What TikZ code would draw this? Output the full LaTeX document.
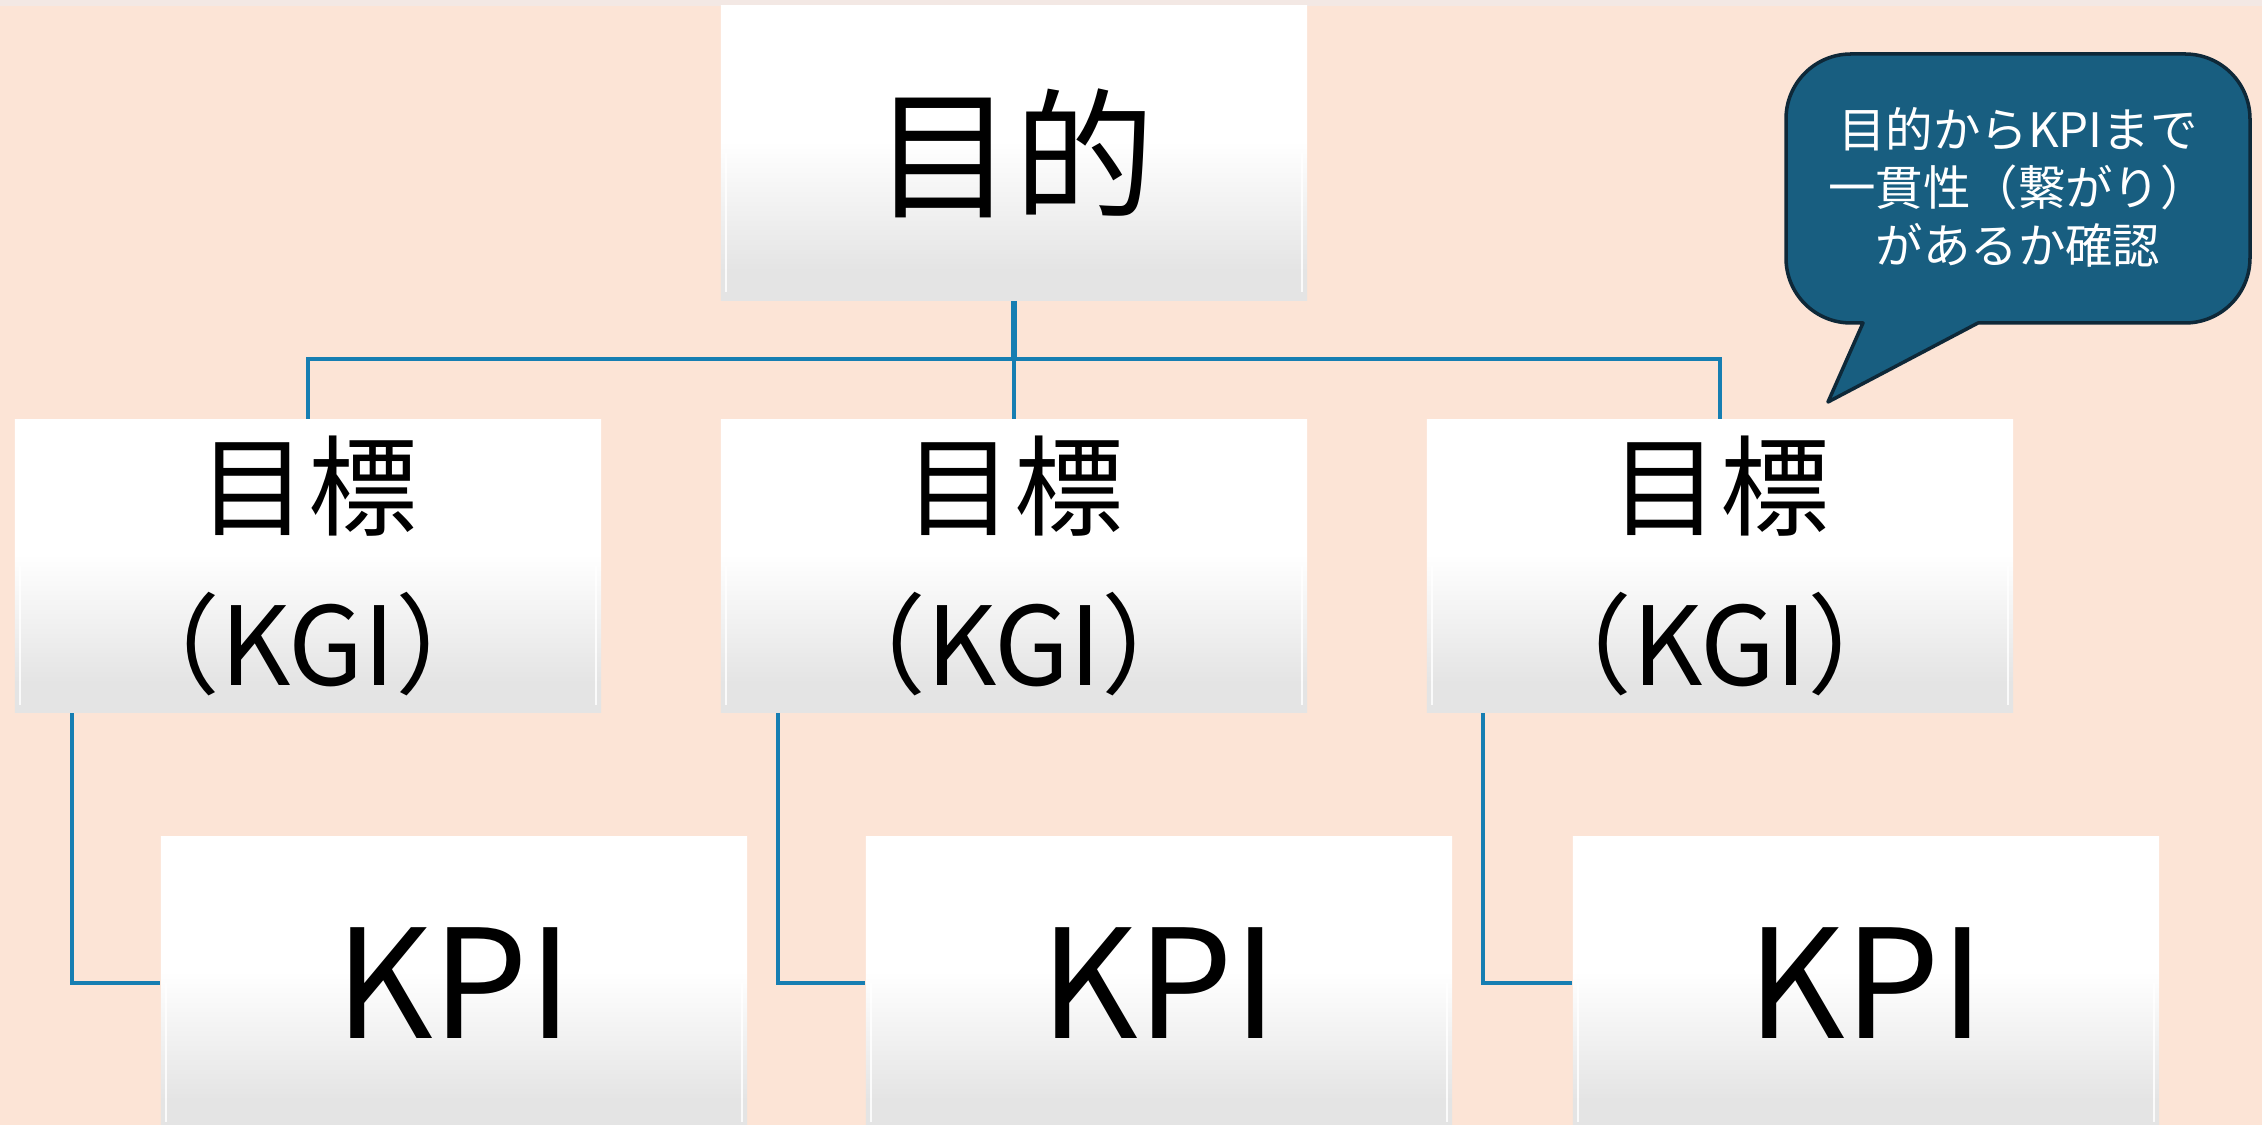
\documentclass[tikz,border=0pt]{standalone}
\usepackage{fontspec}
\setmainfont{Noto Sans CJK JP}
\usetikzlibrary{calc}
\definecolor{bg}{RGB}{252,228,214}
\definecolor{topband}{RGB}{243,232,228}
\definecolor{connc}{RGB}{22,126,178}
\definecolor{boxgray}{RGB}{228,228,228}
\definecolor{callfill}{RGB}{24,94,128}
\definecolor{callline}{RGB}{14,40,56}
\pgfdeclareverticalshading{boxshade}{100bp}{color(0bp)=(boxgray); color(30bp)=(boxgray); color(52bp)=(white); color(100bp)=(white)}
\begin{document}
\begin{tikzpicture}[x=0.01cm,y=-0.01cm,
  card/.style={shade, shading=boxshade, minimum width=5.86cm, minimum height=2.93cm, inner sep=0pt, align=center, text=black,
    path picture={
      \draw[white, opacity=0.85, line width=0.6pt]
        ([xshift=0.05cm,yshift=0.08cm]path picture bounding box.south west) -- ([xshift=0.05cm]path picture bounding box.west);
      \draw[white, opacity=0.85, line width=0.6pt]
        ([xshift=-0.05cm,yshift=0.08cm]path picture bounding box.south east) -- ([xshift=-0.05cm]path picture bounding box.east);
    }},
  bigtext/.style={font=\fontsize{40}{48}\selectfont},
  kgitext/.style={font=\fontsize{31}{45}\selectfont},
  kpitext/.style={font=\fontsize{43}{50}\selectfont},
  link/.style={draw=connc, line width=1.1pt},
  mainlink/.style={draw=connc, line width=1.5pt},
  callshape/.style={fill=callfill, draw=callline, line width=1pt, line join=round},
  calltext/.style={text=white, align=center, font=\fontsize{13.5}{16.5}\selectfont}]
\useasboundingbox (0,0) rectangle (2262,1125);
\clip (0,0) rectangle (2262,1125);
\fill[bg] (0,0) rectangle (2262,1125);
\fill[topband] (0,0) rectangle (2262,6);

% boxes
\node[card, bigtext, minimum height=2.94cm] (top) at (1014,153) {目的};
\node[card, kgitext] (kgi1) at (308,566) {目標\\（KGI）};
\node[card, kgitext] (kgi2) at (1014,566) {目標\\（KGI）};
\node[card, kgitext] (kgi3) at (1720,566) {目標\\（KGI）};
\node[card, kpitext] (kpi1) at (454,983) {KPI};
\node[card, kpitext] (kpi2) at (1159,983) {KPI};
\node[card, kpitext] (kpi3) at (1866,983) {KPI};

% connectors
\coordinate (bus) at (1014,359);
\draw[mainlink] (top.south) -- (bus);
\draw[link] (bus) -- (kgi2.north);
\draw[link] (kgi1.north) |- (bus) -| (kgi3.north);
\draw[link] ([xshift=0.58cm]kgi1.south west) |- (kpi1.west);
\draw[link] ([xshift=0.58cm]kgi2.south west) |- (kpi2.west);
\draw[link] ([xshift=0.57cm]kgi3.south west) |- (kpi3.west);

% callout
\draw[callshape] (1863,323) -- (1828,402) -- (1978,323) -- (2185,323)
  .. controls (2221,323) and (2250,294) .. (2250,258) -- (2250,119)
  .. controls (2250,83) and (2221,54) .. (2185,54) -- (1851,54)
  .. controls (1815,54) and (1786,83) .. (1786,119) -- (1786,258)
  .. controls (1786,294) and (1815,323) .. (1851,323) -- cycle;
\node[calltext] (note) at (2018,187) {目的からKPIまで\\一貫性（繋がり）\\があるか確認};
\end{tikzpicture}
\end{document}
